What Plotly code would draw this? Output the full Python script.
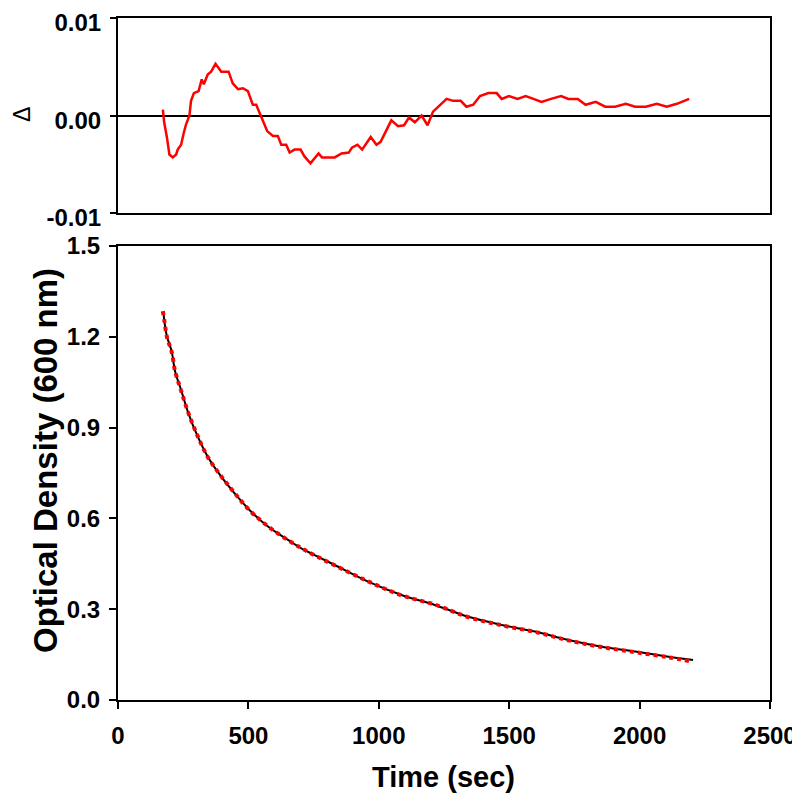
import plotly.graph_objects as go

# Residuals (top panel)
res_time = [172,177,188,197,210,223,229,242,252,261,274,280,291,309,321,329,344,357,374,396,
            424,440,460,479,498,517,530,549,572,594,613,626,645,658,677,700,715,738,769,782,
            831,857,885,897,918,936,969,991,1007,1048,1074,1097,1116,1138,1164,1187,1208,1260,1285,1314,
            1336,1362,1388,1420,1452,1471,1499,1532,1563,1593,1624,1660,1699,1727,1763,1793,1832,1868,1906,1947,
            1983,2024,2066,2104,2143,2190]
res_delta = [0.0006,-0.0007,-0.0023,-0.0040,-0.0043,-0.0040,-0.0035,-0.0030,-0.0018,-0.0009,
             0.0000,0.0015,0.0023,0.0025,0.0037,0.0032,0.0042,0.0045,0.0053,0.0045,
             0.0045,0.0033,0.0027,0.0028,0.0025,0.0011,0.0011,-0.0001,-0.0016,-0.0021,
             -0.0021,-0.0030,-0.0030,-0.0038,-0.0035,-0.0035,-0.0042,-0.0049,-0.0039,-0.0043,
             -0.0043,-0.0039,-0.0038,-0.0033,-0.0030,-0.0035,-0.0022,-0.0030,-0.0027,-0.0005,
             -0.0011,-0.0010,-0.0002,-0.0007,0.0000,-0.0010,0.0004,0.0017,0.0015,0.0015,
             0.0009,0.0011,0.0020,0.0023,0.0023,0.0017,0.0020,0.0017,0.0020,0.0017,
             0.0014,0.0017,0.0020,0.0017,0.0017,0.0011,0.0014,0.0009,0.0009,0.0012,
             0.0009,0.0009,0.0012,0.0009,0.0012,0.0017]

# Fit (black line)
fit_time = [175,178,188,206,219,242,270,306,344,396,447,504,575,652,703,754,831,959,1087,1215,
            1343,1471,1599,1727,1855,1983,2111,2205]
fit_od = [1.275,1.250,1.200,1.151,1.085,1.024,0.947,0.870,0.804,0.738,0.683,0.628,0.573,0.529,
          0.501,0.479,0.446,0.391,0.347,0.314,0.275,0.248,0.226,0.198,0.176,0.160,0.143,0.132]

# Measured data (red dotted)
data_time = [172,178,188,206,219,242,270,306,344,396,447,504,575,652,703,754,831,959,1087,1215,
             1343,1471,1599,1727,1855,1983,2111,2195]
data_od = [1.285,1.252,1.198,1.150,1.086,1.022,0.948,0.871,0.803,0.739,0.684,0.627,0.574,0.528,
           0.502,0.478,0.445,0.392,0.346,0.315,0.274,0.247,0.225,0.197,0.175,0.158,0.141,0.128]

x_ticks = [0, 500, 1000, 1500, 2000, 2500]
od_ticks = [0.0, 0.3, 0.6, 0.9, 1.2, 1.5]
res_ticks = [-0.01, 0.0, 0.01]
res_ticktext = ["-0.01", "0.00", "0.01"]

FONT = "Liberation Sans"
tickfont = dict(family=FONT, size=24, color="black", weight="bold")

fig = go.Figure()
fig.add_trace(go.Scatter(x=fit_time, y=fit_od, mode="lines", line=dict(color="black", width=2, shape="spline"),
                         xaxis="x", yaxis="y", showlegend=False))
fig.add_trace(go.Scatter(x=data_time, y=data_od, mode="lines",
                         line=dict(color="#ff0000", width=4, dash="dot", shape="spline"),
                         xaxis="x", yaxis="y", showlegend=False))
fig.add_trace(go.Scatter(x=res_time, y=res_delta, mode="lines", line=dict(color="#ff0000", width=2.5),
                         xaxis="x2", yaxis="y2", showlegend=False))

L, R, T, B = 110, 38, 10, 116
W, H = 800, 808
pw = W - L - R
ph = H - T - B
OFF = 8  # page offset of the figure

def py2paper(py):
    return (H - B - (py - OFF)) / ph

def px2paper(px):
    return ((px - OFF) - L) / pw

axis_common = dict(showline=True, linecolor="black", linewidth=2, mirror=True, showgrid=False,
                   ticks="outside", tickcolor="black", tickwidth=2, tickfont=tickfont,
                   automargin=False, ticklabeloverflow="allow")

fig.update_layout(
    width=W, height=H, margin=dict(l=L, r=R, t=T, b=B, autoexpand=False),
    paper_bgcolor="white", plot_bgcolor="white",
    xaxis=dict(domain=[0, 1], range=[0, 2500], tickvals=x_ticks, ticklen=7, zeroline=False,
               ticklabelstandoff=6, anchor="y", **axis_common),
    yaxis=dict(domain=[0, py2paper(246)], range=[0, 1.5], tickvals=od_ticks, tickformat=".1f",
               ticklen=7, zeroline=False, ticklabelstandoff=4, anchor="x", **axis_common),
    xaxis2=dict(domain=[0, 1], range=[0, 2500], showticklabels=False, anchor="y2", automargin=False,
                showline=True, linecolor="black", linewidth=2, mirror=True, showgrid=False,
                ticks="", zeroline=False),
    yaxis2=dict(domain=[py2paper(213), 1], range=[-0.01, 0.01], tickvals=res_ticks, ticktext=res_ticktext,
                ticklen=6, zeroline=True, zerolinecolor="black", zerolinewidth=2,
                ticklabelstandoff=4, ticklabelshift=5, anchor="x2", **axis_common),
    annotations=[
        dict(text="Time (sec)", xref="paper", yref="paper", x=px2paper(443), y=py2paper(777),
             xanchor="center", yanchor="middle", showarrow=False,
             font=dict(family=FONT, size=29, color="black", weight="bold")),
        dict(text="Optical Density (600 nm)", xref="paper", yref="paper", x=px2paper(45), y=py2paper(461),
             xanchor="center", yanchor="middle", showarrow=False, textangle=-90,
             font=dict(family=FONT, size=33, color="black", weight="bold")),
        dict(text="Δ", xref="paper", yref="paper", x=px2paper(22), y=py2paper(115),
             xanchor="center", yanchor="middle", showarrow=False, textangle=-90,
             font=dict(family=FONT, size=23, color="black")),
    ],
)

fig.write_html("out.html")
